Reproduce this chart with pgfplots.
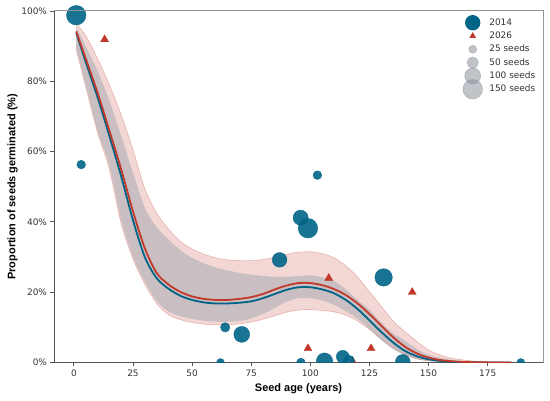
\documentclass[border=0pt]{standalone}
\usepackage{pgfplots}
\pgfplotsset{compat=1.18}
\usepackage{pgfplotstable}
\usepgfplotslibrary{fillbetween}
\usepackage{fontspec}
\setmainfont{DejaVu Sans}
\newfontfamily\labelfont{Liberation Sans}
\definecolor{cblue}{RGB}{0,100,135}
\definecolor{cred}{RGB}{192,57,43}
\definecolor{cgrey}{RGB}{140,145,155}
\definecolor{spine}{RGB}{85,85,85}
\definecolor{spinelight}{RGB}{150,150,150}

\pgfplotstableread{
x bl bu blo rl ru rlo
1 93.8 95.5 89.5 94.2 96.5 89.0
5 85.5 90.0 79.0 86.5 93.0 78.5
10 75.5 83.0 66.0 76.8 86.5 65.5
15 64.5 74.5 56.0 66.0 79.0 55.0
20 53.0 64.5 40.5 55.0 70.5 39.5
25 40.5 54.0 30.0 43.0 60.5 29.5
30 30.0 44.0 23.0 32.5 49.5 22.3
35 24.0 38.5 17.5 25.5 42.5 16.8
40 21.0 35.0 14.5 22.2 38.0 13.6
45 19.0 32.0 13.2 20.1 34.5 12.2
50 17.8 29.8 12.4 18.8 32.3 11.4
55 17.1 28.2 11.9 18.1 30.8 10.9
60 16.8 27.0 11.6 17.8 29.8 10.7
65 16.8 26.2 11.6 17.8 29.2 10.7
70 17.0 25.5 11.8 18.1 29.0 11.0
75 17.4 25.0 12.5 18.6 29.0 11.5
80 18.3 24.6 13.8 19.5 29.3 12.3
85 19.5 24.4 15.5 20.8 30.0 13.3
90 20.7 24.4 17.3 21.9 30.8 14.3
95 21.4 24.6 18.3 22.6 31.4 14.9
100 21.4 24.8 18.3 22.6 31.5 15.0
105 20.8 24.2 17.6 22.0 31.0 14.8
110 19.7 23.2 16.4 20.9 29.8 14.4
115 17.8 20.8 14.6 19.2 27.5 13.5
120 15.2 17.8 12.4 16.8 24.3 11.8
125 12.0 15.0 9.6 13.8 20.2 9.4
130 8.7 11.3 6.4 10.5 16.0 6.6
135 5.7 8.3 3.8 7.2 11.8 4.1
140 3.3 6.2 2.0 4.5 8.8 2.3
145 1.8 3.8 0.9 2.6 6.0 1.1
150 0.9 2.2 0.4 1.4 3.6 0.5
155 0.45 1.3 0.2 0.7 2.1 0.25
160 0.2 0.7 0.1 0.35 1.2 0.1
165 0.1 0.35 0.04 0.15 0.7 0.05
170 0.04 0.15 0.02 0.07 0.35 0.02
175 0.02 0.07 0.01 0.03 0.15 0.01
180 0.01 0.03 0 0.01 0.07 0
185 0 0 0 0 0.03 0
}\curves

\pgfplotstableread{
x y n
1 98.8 150
3.1 56.3 30
103 53.3 30
95.9 41.2 90
99 38.2 150
87 29.2 85
131 24.2 120
64 10 35
71 8 100
}\circtop

\pgfplotstableread{
x y n
62 0 25
96 0 30
106 0.4 105
113.7 1.65 65
116.3 0.5 50
139.1 0.2 85
189 0 25
}\circbot

\pgfplotstableread{
x y
13 91.9
107.8 24.0
143.1 20.0
99 4.0
125.7 4.0
}\tri

\pgfplotstableread{
x y
118 0.2
}\tribot

\begin{document}
\begin{tikzpicture}
\begin{axis}[
  name=ax,
  at={(0,0)}, anchor=south west,
  scale only axis, width=489bp, height=351.5bp,
  xmin=-8.4, xmax=198.4, ymin=0, ymax=100,
  axis x line*=bottom, axis y line*=left,
  axis line style={draw=spine, line width=1bp},
  xtick={0,25,...,175}, xticklabels={0,25,50,75,100,125,150,175},
  ytick={0,20,...,100}, yticklabels={0\%,20\%,40\%,60\%,80\%,100\%},
  tick align=outside, major tick length=3.5bp,
  tick style={draw=spine, line width=0.8bp},
  ticklabel style={font=\fontsize{9}{10}\selectfont, text=black!80},
  xlabel={Seed age (years)}, ylabel={Proportion of seeds germinated (\%)},
  label style={font=\labelfont\bfseries\fontsize{11}{13}\selectfont},
  xlabel style={at={(axis description cs:0.5,-0.0754)}, anchor=center},
  ylabel style={at={(axis description cs:-0.0845,0.5)}, anchor=center},
  legend style={at={(0.8399,0.9856)}, anchor=north west, draw=none, fill=none,
    inner sep=0pt, outer sep=0pt, row sep=0pt, column sep=0pt,
    font=\fontsize{9}{10}\selectfont, text=black!80, nodes={inner sep=0pt}},
  legend cell align=left,
]
% 2026 triangles
\addplot[only marks, mark=triangle*, mark size=4.6bp, color=cred,
  mark options={draw=cred, fill=cred}, forget plot] table[x=x,y=y]{\tri};
\addplot[only marks, mark=triangle*, mark size=4.6bp, color=cred, clip marker paths=true,
  mark options={draw=cred, fill=cred}, forget plot] table[x=x,y=y]{\tribot};
% 2014 circles
\addplot[scatter, only marks, mark=*, forget plot, point meta=\thisrow{n},
  scatter/use mapped color={draw=cblue, fill=cblue, fill opacity=0.9, draw opacity=0.9},
  visualization depends on={0.8*sqrt(\thisrow{n}) \as \msize},
  scatter/@pre marker code/.append style={/tikz/mark size=\msize}]
  table[x=x,y=y]{\circtop};
\addplot[scatter, only marks, mark=*, forget plot, point meta=\thisrow{n}, clip marker paths=true,
  scatter/use mapped color={draw=cblue, fill=cblue, fill opacity=0.9, draw opacity=0.9},
  visualization depends on={0.8*sqrt(\thisrow{n}) \as \msize},
  scatter/@pre marker code/.append style={/tikz/mark size=\msize}]
  table[x=x,y=y]{\circbot};
% bands
\addplot[name path=BU, draw=none, smooth, forget plot] table[x=x,y=bu]{\curves};
\addplot[name path=BL, draw=none, smooth, forget plot] table[x=x,y=blo]{\curves};
\addplot[fill=cblue, fill opacity=0.2, draw=none, forget plot] fill between[of=BU and BL];
\addplot[name path=RU, draw=cred, draw opacity=0.3, line width=0.6bp, smooth, forget plot] table[x=x,y=ru]{\curves};
\addplot[name path=RL, draw=cred, draw opacity=0.3, line width=0.6bp, smooth, forget plot] table[x=x,y=rlo]{\curves};
\addplot[fill=cred, fill opacity=0.2, draw=none, forget plot] fill between[of=RU and RL];
% fitted lines
\addplot[cblue, line width=1.8bp, smooth, forget plot] table[x=x,y=bl]{\curves};
\addplot[cred, line width=1.8bp, smooth, forget plot] table[x=x,y=rl]{\curves};
% legend
\addlegendimage{legend image code/.code={\path[draw=none,fill=none] (-8bp,-6.65bp) rectangle (16.6bp,6.65bp); \fill[cblue, draw=none, overlay] (0,0) circle (7.7bp);}}
\addlegendentry{2014}
\addlegendimage{legend image code/.code={\path[draw=none,fill=none] (-8bp,-6.65bp) rectangle (16.6bp,6.65bp); \fill[cred, draw=none, overlay] (90:3.9bp) -- (210:3.9bp) -- (330:3.9bp) -- cycle;}}
\addlegendentry{2026}
\addlegendimage{legend image code/.code={\path[draw=none,fill=none] (-8bp,-6.65bp) rectangle (16.6bp,6.65bp); \filldraw[cgrey, fill opacity=0.55, draw opacity=0.7, line width=0.4bp, overlay] (0,0) circle (4bp);}}
\addlegendentry{25 seeds}
\addlegendimage{legend image code/.code={\path[draw=none,fill=none] (-8bp,-6.65bp) rectangle (16.6bp,6.65bp); \filldraw[cgrey, fill opacity=0.55, draw opacity=0.7, line width=0.4bp, overlay] (0,0) circle (5.66bp);}}
\addlegendentry{50 seeds}
\addlegendimage{legend image code/.code={\path[draw=none,fill=none] (-8bp,-6.65bp) rectangle (16.6bp,6.65bp); \filldraw[cgrey, fill opacity=0.55, draw opacity=0.7, line width=0.4bp, overlay] (0,0) circle (8bp);}}
\addlegendentry{100 seeds}
\addlegendimage{legend image code/.code={\path[draw=none,fill=none] (-8bp,-6.65bp) rectangle (16.6bp,6.65bp); \filldraw[cgrey, fill opacity=0.55, draw opacity=0.7, line width=0.4bp, overlay] (0,0) circle (9.8bp);}}
\addlegendentry{150 seeds}
\end{axis}
\draw[spinelight, line width=1bp] (ax.north west) -- (ax.north east) -- (ax.south east);
\pgfresetboundingbox
\useasboundingbox (-54bp,-38.5bp) rectangle (496bp,362.5bp);
\end{tikzpicture}
\end{document}
